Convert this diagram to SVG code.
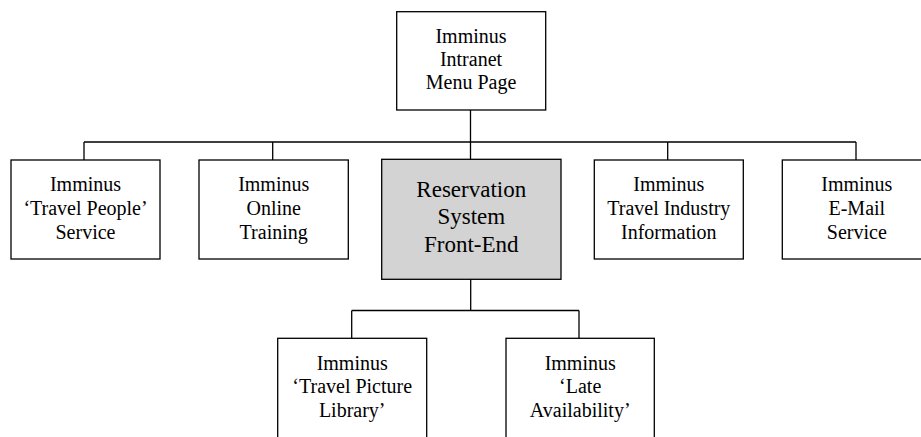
<svg xmlns="http://www.w3.org/2000/svg" width="921" height="437" viewBox="0 0 921 437">
<style>
.box{fill:#ffffff;stroke:#000;stroke-width:1.3}
.hl{fill:#d3d3d3;stroke:#000;stroke-width:1.3}
.t{font-family:"Liberation Serif","Times New Roman",serif;font-size:20px;fill:#000;text-anchor:middle}
.tb{font-family:"Liberation Serif","Times New Roman",serif;font-size:23px;fill:#000;text-anchor:middle}
.c{fill:none;stroke:#000;stroke-width:1.3}
</style>
<rect width="921" height="437" fill="#ffffff"/>
<g id="connectors">
<path class="c" d="M470.5 110 V142 M84 142 H856 M84 142 V160 M272.7 142 V160 M470.5 142 V159.5 M667.7 142 V160 M856 142 V160"/>
<path class="c" d="M470.7 279.3 V310.5 M351.7 310.5 H579 M351.7 310.5 V338.3 M579 310.5 V338.3"/>
</g>
<g id="menu">
<rect class="box" x="396.7" y="11.7" width="149" height="98.3"/>
<text class="t" x="471" y="43.3">Imminus</text>
<text class="t" x="471" y="66.3">Intranet</text>
<text class="t" x="471" y="89.3">Menu Page</text>
</g>
<g id="travel-people">
<rect class="box" x="11" y="160" width="149" height="99"/>
<text class="t" x="85.5" y="190.7">Imminus</text>
<text class="t" x="85.5" y="214.8">‘Travel People’</text>
<text class="t" x="85.5" y="239">Service</text>
</g>
<g id="online-training">
<rect class="box" x="199" y="160" width="149.3" height="99"/>
<text class="t" x="273.7" y="190.7">Imminus</text>
<text class="t" x="273.7" y="214.8">Online</text>
<text class="t" x="273.7" y="239">Training</text>
</g>
<g id="reservation">
<rect class="hl" x="381.7" y="159.3" width="179.3" height="120"/>
<text class="tb" x="471.3" y="196.7">Reservation</text>
<text class="tb" x="471.3" y="224.2">System</text>
<text class="tb" x="471.3" y="251.7">Front-End</text>
</g>
<g id="travel-industry">
<rect class="box" x="594.3" y="160" width="149" height="99"/>
<text class="t" x="668.8" y="190.7">Imminus</text>
<text class="t" x="668.8" y="214.8">Travel Industry</text>
<text class="t" x="668.8" y="239">Information</text>
</g>
<g id="email">
<rect class="box" x="782.3" y="160" width="149" height="99"/>
<text class="t" x="856.8" y="190.7">Imminus</text>
<text class="t" x="856.8" y="214.8">E-Mail</text>
<text class="t" x="856.8" y="239">Service</text>
</g>
<g id="picture-library">
<rect class="box" x="277.7" y="338.3" width="149" height="105"/>
<text class="t" x="352.2" y="370">Imminus</text>
<text class="t" x="352.2" y="393.3">‘Travel Picture</text>
<text class="t" x="352.2" y="416.7">Library’</text>
</g>
<g id="late-availability">
<rect class="box" x="506" y="338.3" width="148.3" height="105"/>
<text class="t" x="580.2" y="370">Imminus</text>
<text class="t" x="580.2" y="393.3">‘Late</text>
<text class="t" x="580.2" y="416.7">Availability’</text>
</g>
</svg>
